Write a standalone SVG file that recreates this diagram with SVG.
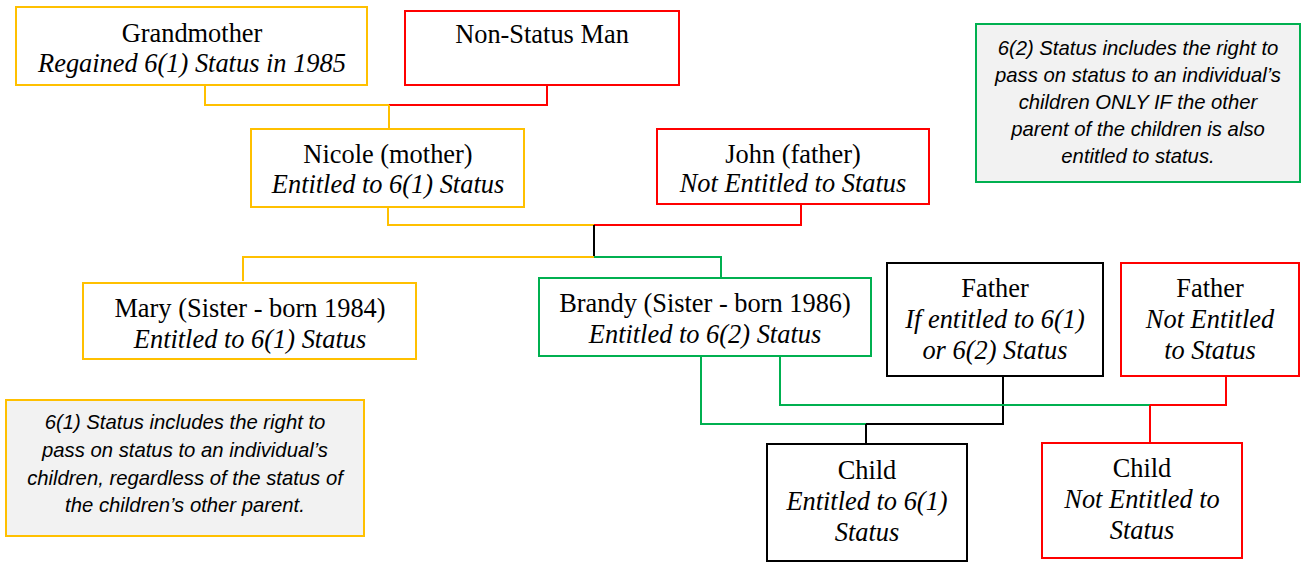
<svg xmlns="http://www.w3.org/2000/svg" width="1306" height="563" viewBox="0 0 1306 563">
<style>
.box{fill:#fff;stroke-width:2}
.y{stroke:#FFC000}.r{stroke:#FF0000}.g{stroke:#00B050}.k{stroke:#000}
.note{fill:#F2F2F2;stroke-width:2}
.t{font-family:"Liberation Serif","Times New Roman",serif;font-size:26.4px;fill:#000;text-anchor:middle}
.i{font-style:italic}
.n{font-family:"Liberation Sans",Arial,sans-serif;font-size:20.3px;font-style:italic;fill:#000;text-anchor:middle}
.c{fill:none;stroke-width:2}
</style>
<rect width="1306" height="563" fill="#fff"/>
<g id="connectors">
<polyline class="c y" points="205,85 205,105 389,105"/>
<polyline class="c r" points="389,105 547,105 547,85"/>
<line class="c y" x1="389" y1="105" x2="389" y2="129"/>
<polyline class="c y" points="388,207 388,225 594,225"/>
<polyline class="c r" points="594,225 801,225 801,204"/>
<line class="c k" x1="594" y1="225" x2="594" y2="257"/>
<polyline class="c y" points="594,257 243,257 243,281"/>
<polyline class="c g" points="594,257 721,257 721,278"/>
<polyline class="c g" points="701,356 701,424 866,424"/>
<polyline class="c k" points="866,424 1003,424 1003,376"/>
<line class="c k" x1="866" y1="424" x2="866" y2="444"/>
<polyline class="c g" points="780,356 780,405 1150,405"/>
<polyline class="c r" points="1150,405 1226,405 1226,376"/>
<line class="c r" x1="1150" y1="405" x2="1150" y2="444"/>
</g>
<g id="grandmother">
<rect class="box y" x="16" y="7" width="351" height="78"/>
<text class="t" x="192" y="42">Grandmother</text>
<text class="t i" x="192" y="72">Regained 6(1) Status in 1985</text>
</g>
<g id="nonstatus">
<rect class="box r" x="405" y="11" width="274" height="74"/>
<text class="t" x="542" y="43">Non-Status Man</text>
</g>
<g id="nicole">
<rect class="box y" x="251" y="129" width="273" height="78"/>
<text class="t" x="388" y="163">Nicole (mother)</text>
<text class="t i" x="388" y="193">Entitled to 6(1) Status</text>
</g>
<g id="john">
<rect class="box r" x="657" y="129" width="272" height="75"/>
<text class="t" x="793" y="163">John (father)</text>
<text class="t i" x="793" y="192">Not Entitled to Status</text>
</g>
<g id="note62">
<rect class="note g" x="976" y="24" width="324" height="158"/>
<text class="n" x="1138" y="55">6(2) Status includes the right to</text>
<text class="n" x="1138" y="82">pass on status to an individual’s</text>
<text class="n" x="1138" y="109">children ONLY IF the other</text>
<text class="n" x="1138" y="136">parent of the children is also</text>
<text class="n" x="1138" y="163">entitled to status.</text>
</g>
<g id="mary">
<rect class="box y" x="83" y="283" width="333" height="76"/>
<text class="t" x="250" y="317">Mary (Sister - born 1984)</text>
<text class="t i" x="250" y="348">Entitled to 6(1) Status</text>
</g>
<g id="brandy">
<rect class="box g" x="539" y="278" width="332" height="78"/>
<text class="t" x="705" y="312">Brandy (Sister - born 1986)</text>
<text class="t i" x="705" y="343">Entitled to 6(2) Status</text>
</g>
<g id="father1">
<rect class="box k" x="887" y="263" width="216" height="113"/>
<text class="t" x="995" y="297">Father</text>
<text class="t i" x="995" y="328">If entitled to 6(1)</text>
<text class="t i" x="995" y="359">or 6(2) Status</text>
</g>
<g id="father2">
<rect class="box r" x="1121" y="263" width="178" height="113"/>
<text class="t" x="1210" y="297">Father</text>
<text class="t i" x="1210" y="328">Not Entitled</text>
<text class="t i" x="1210" y="359">to Status</text>
</g>
<g id="note61">
<rect class="note y" x="6" y="400" width="358" height="136"/>
<text class="n" x="185" y="429">6(1) Status includes the right to</text>
<text class="n" x="185" y="457">pass on status to an individual’s</text>
<text class="n" x="185" y="485">children, regardless of the status of</text>
<text class="n" x="185" y="512">the children’s other parent.</text>
</g>
<g id="child1">
<rect class="box k" x="767" y="444" width="200" height="117"/>
<text class="t" x="867" y="479">Child</text>
<text class="t i" x="867" y="510">Entitled to 6(1)</text>
<text class="t i" x="867" y="541">Status</text>
</g>
<g id="child2">
<rect class="box r" x="1042" y="443" width="200" height="115"/>
<text class="t" x="1142" y="477">Child</text>
<text class="t i" x="1142" y="508">Not Entitled to</text>
<text class="t i" x="1142" y="539">Status</text>
</g>
</svg>
